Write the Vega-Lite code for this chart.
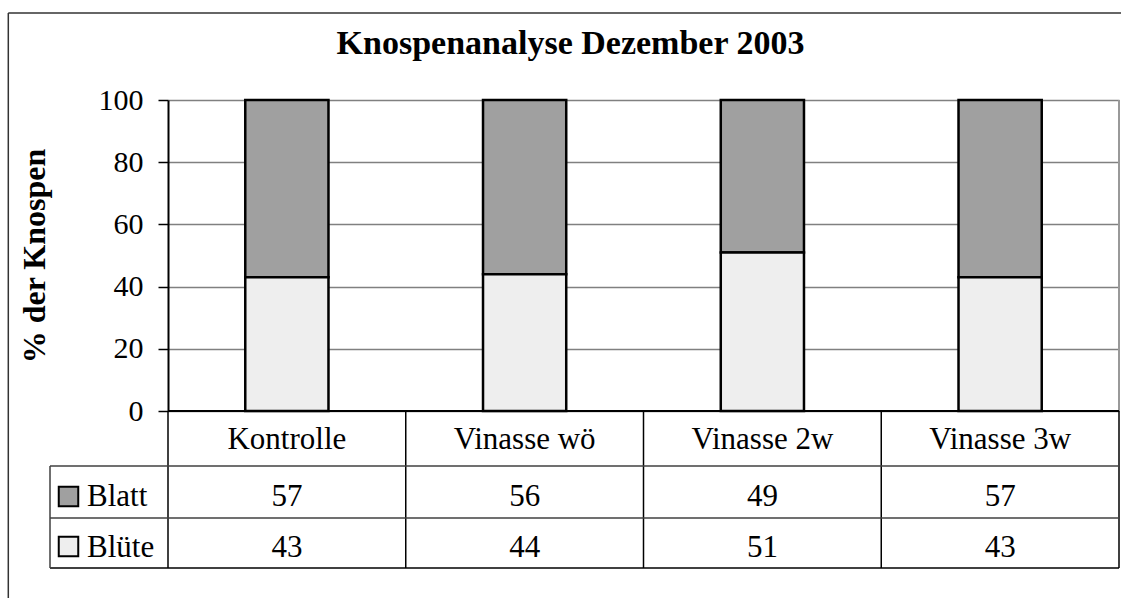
{
  "$schema": "https://vega.github.io/schema/vega-lite/v6.json",
  "width": 951,
  "height": 468,
  "autosize": {"type": "none"},
  "padding": {"left": 168, "top": 100, "right": 2, "bottom": 30},
  "background": "white",
  "config": {"view": {"stroke": null}, "font": "Liberation Serif"},
  "title": {"text": "Knospenanalyse Dezember 2003", "font": "Liberation Serif", "fontSize": 34, "fontWeight": "bold", "color": "black", "dx": -73, "offset": -76, "baseline": "alphabetic"},
  "data": {"values": [
    {"cat": "Kontrolle", "series": "Blatt", "value": 57},
    {"cat": "Kontrolle", "series": "Blüte", "value": 43},
    {"cat": "Vinasse wö", "series": "Blatt", "value": 56},
    {"cat": "Vinasse wö", "series": "Blüte", "value": 44},
    {"cat": "Vinasse 2w", "series": "Blatt", "value": 49},
    {"cat": "Vinasse 2w", "series": "Blüte", "value": 51},
    {"cat": "Vinasse 3w", "series": "Blatt", "value": 57},
    {"cat": "Vinasse 3w", "series": "Blüte", "value": 43}
  ]},
  "resolve": {"scale": {"x": "independent"}},
  "layer": [
    {
      "mark": {"type": "bar", "stroke": "black", "strokeWidth": 2.5, "width": {"band": 0.35}},
      "encoding": {
        "x": {"field": "cat", "type": "nominal", "scale": {"domain": ["Kontrolle", "Vinasse wö", "Vinasse 2w", "Vinasse 3w"], "paddingInner": 0, "paddingOuter": 0}, "axis": null},
        "y": {"field": "value", "type": "quantitative", "stack": "zero",
          "scale": {"domain": [0, 100], "range": [311, 0], "nice": false, "zero": false},
          "axis": {"values": [0, 20, 40, 60, 80, 100], "title": "% der Knospen", "titleFont": "Liberation Serif", "titleFontSize": 32, "titleFontWeight": "bold", "titleColor": "black", "titlePadding": 47,
            "labelFont": "Liberation Serif", "labelFontSize": 30, "labelColor": "black", "labelPadding": 15,
            "tickSize": 10, "tickColor": "black", "tickWidth": 1.5, "domainColor": "black", "domainWidth": 2,
            "grid": true, "gridColor": "#808080", "gridWidth": 1.5}},
        "color": {"field": "series", "type": "nominal", "scale": {"domain": ["Blatt", "Blüte"], "range": ["#a0a0a0", "#eeeeee"]}, "legend": null},
        "order": {"field": "series", "sort": "descending"}
      }
    },
    {
      "transform": [{"filter": "datum.series === 'Blatt'"}],
      "mark": {"type": "text", "font": "Liberation Serif", "fontSize": 31, "baseline": "alphabetic", "color": "black"},
      "encoding": {
        "x": {"field": "cat", "type": "nominal", "scale": {"domain": ["Kontrolle", "Vinasse wö", "Vinasse 2w", "Vinasse 3w"], "paddingInner": 0, "paddingOuter": 0}, "axis": null},
        "y": {"datum": -12.2, "type": "quantitative"},
        "text": {"field": "cat"}
      }
    },
    {
      "transform": [{"filter": "datum.series === 'Blatt'"}],
      "mark": {"type": "text", "font": "Liberation Serif", "fontSize": 31, "baseline": "alphabetic", "color": "black"},
      "encoding": {
        "x": {"field": "cat", "type": "nominal", "scale": {"domain": ["Kontrolle", "Vinasse wö", "Vinasse 2w", "Vinasse 3w"], "paddingInner": 0, "paddingOuter": 0}, "axis": null},
        "y": {"datum": -30.55, "type": "quantitative"},
        "text": {"field": "value"}
      }
    },
    {
      "transform": [{"filter": "datum.series === 'Blüte'"}],
      "mark": {"type": "text", "font": "Liberation Serif", "fontSize": 31, "baseline": "alphabetic", "color": "black"},
      "encoding": {
        "x": {"field": "cat", "type": "nominal", "scale": {"domain": ["Kontrolle", "Vinasse wö", "Vinasse 2w", "Vinasse 3w"], "paddingInner": 0, "paddingOuter": 0}, "axis": null},
        "y": {"datum": -46.85, "type": "quantitative"},
        "text": {"field": "value"}
      }
    },
    {
      "transform": [{"filter": "datum.series === 'Blatt' && datum.cat === 'Kontrolle'"}],
      "mark": {"type": "point", "shape": "square", "filled": true, "size": 380, "stroke": "black", "strokeWidth": 2, "opacity": 1},
      "encoding": {
        "x": {"datum": -0.4185, "type": "quantitative", "scale": {"domain": [0, 4], "nice": false, "zero": false}, "axis": null},
        "y": {"datum": -27.49, "type": "quantitative"},
        "color": {"field": "series", "type": "nominal"}
      }
    },
    {
      "transform": [{"filter": "datum.series === 'Blüte' && datum.cat === 'Kontrolle'"}],
      "mark": {"type": "point", "shape": "square", "filled": true, "size": 380, "stroke": "black", "strokeWidth": 2, "opacity": 1},
      "encoding": {
        "x": {"datum": -0.4185, "type": "quantitative", "scale": {"domain": [0, 4], "nice": false, "zero": false}, "axis": null},
        "y": {"datum": -43.6, "type": "quantitative"},
        "color": {"field": "series", "type": "nominal"}
      }
    },
    {
      "transform": [{"filter": "datum.series === 'Blatt' && datum.cat === 'Kontrolle'"}],
      "mark": {"type": "text", "font": "Liberation Serif", "fontSize": 31, "baseline": "alphabetic", "align": "left", "color": "black"},
      "encoding": {
        "x": {"datum": -0.3407, "type": "quantitative", "scale": {"domain": [0, 4], "nice": false, "zero": false}, "axis": null},
        "y": {"datum": -30.55, "type": "quantitative"},
        "text": {"field": "series"}
      }
    },
    {
      "transform": [{"filter": "datum.series === 'Blüte' && datum.cat === 'Kontrolle'"}],
      "mark": {"type": "text", "font": "Liberation Serif", "fontSize": 31, "baseline": "alphabetic", "align": "left", "color": "black"},
      "encoding": {
        "x": {"datum": -0.3407, "type": "quantitative", "scale": {"domain": [0, 4], "nice": false, "zero": false}, "axis": null},
        "y": {"datum": -46.85, "type": "quantitative"},
        "text": {"field": "series"}
      }
    },
    {
      "transform": [{"filter": "datum.series === 'Blatt'"}],
      "mark": {"type": "rule", "color": "black", "strokeWidth": 1.5},
      "encoding": {
        "x": {"field": "cat", "type": "nominal", "bandPosition": 0, "scale": {"domain": ["Kontrolle", "Vinasse wö", "Vinasse 2w", "Vinasse 3w"], "paddingInner": 0, "paddingOuter": 0}, "axis": null},
        "y": {"datum": 0, "type": "quantitative"},
        "y2": {"datum": -50.48}
      }
    },
    {
      "data": {"values": [{}]},
      "mark": {"type": "rule", "color": "black", "strokeWidth": 1.5},
      "encoding": {
        "x": {"datum": 4, "type": "quantitative", "scale": {"domain": [0, 4], "nice": false, "zero": false}, "axis": null},
        "y": {"datum": 0, "type": "quantitative"},
        "y2": {"datum": -50.48}
      }
    },
    {
      "data": {"values": [{}]},
      "mark": {"type": "rule", "color": "#999999", "strokeWidth": 2},
      "encoding": {
        "x": {"datum": 4, "type": "quantitative", "scale": {"domain": [0, 4], "nice": false, "zero": false}, "axis": null},
        "y": {"datum": 0, "type": "quantitative"},
        "y2": {"datum": 100}
      }
    },
    {
      "data": {"values": [{}]},
      "mark": {"type": "rule", "color": "black", "strokeWidth": 2},
      "encoding": {
        "x": {"datum": 0, "type": "quantitative", "scale": {"domain": [0, 4], "nice": false, "zero": false}, "axis": null},
        "x2": {"datum": 4},
        "y": {"datum": 0, "type": "quantitative"}
      }
    },
    {
      "data": {"values": [{}]},
      "mark": {"type": "rule", "color": "#404040", "strokeWidth": 1.5},
      "encoding": {
        "x": {"datum": -0.4963, "type": "quantitative", "scale": {"domain": [0, 4], "nice": false, "zero": false}, "axis": null},
        "x2": {"datum": 4},
        "y": {"datum": -17.68, "type": "quantitative"}
      }
    },
    {
      "data": {"values": [{}]},
      "mark": {"type": "rule", "color": "#404040", "strokeWidth": 1.5},
      "encoding": {
        "x": {"datum": -0.4963, "type": "quantitative", "scale": {"domain": [0, 4], "nice": false, "zero": false}, "axis": null},
        "x2": {"datum": 4},
        "y": {"datum": -34.41, "type": "quantitative"}
      }
    },
    {
      "data": {"values": [{}]},
      "mark": {"type": "rule", "color": "black", "strokeWidth": 1.5},
      "encoding": {
        "x": {"datum": -0.4963, "type": "quantitative", "scale": {"domain": [0, 4], "nice": false, "zero": false}, "axis": null},
        "x2": {"datum": 4},
        "y": {"datum": -50.48, "type": "quantitative"}
      }
    },
    {
      "data": {"values": [{}]},
      "mark": {"type": "rule", "color": "#404040", "strokeWidth": 1.5},
      "encoding": {
        "x": {"datum": -0.4963, "type": "quantitative", "scale": {"domain": [0, 4], "nice": false, "zero": false}, "axis": null},
        "y": {"datum": -17.68, "type": "quantitative"},
        "y2": {"datum": -50.48}
      }
    },
    {
      "data": {"values": [{}]},
      "mark": {"type": "rule", "color": "#333333", "strokeWidth": 1.5},
      "encoding": {
        "x": {"datum": -0.6717, "type": "quantitative", "scale": {"domain": [0, 4], "nice": false, "zero": false}, "axis": null},
        "y": {"datum": 127.97, "type": "quantitative"},
        "y2": {"datum": -70}
      }
    },
    {
      "data": {"values": [{}]},
      "mark": {"type": "rule", "color": "#333333", "strokeWidth": 1.5},
      "encoding": {
        "x": {"datum": -0.6717, "type": "quantitative", "scale": {"domain": [0, 4], "nice": false, "zero": false}, "axis": null},
        "x2": {"datum": 4.2},
        "y": {"datum": 127.97, "type": "quantitative"}
      }
    }
  ]
}
